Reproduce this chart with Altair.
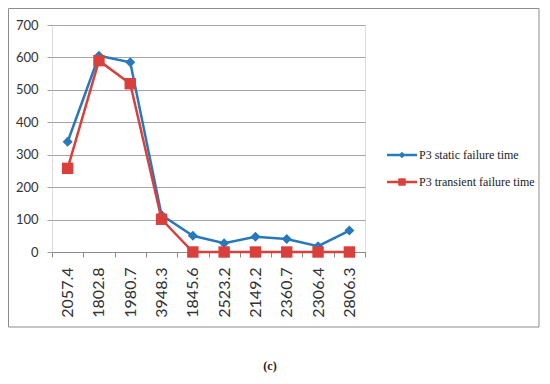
import altair as alt
import pandas as pd

categories = ["2057.4", "1802.8", "1980.7", "3948.3", "1845.6",
              "2523.2", "2149.2", "2360.7", "2306.4", "2806.3"]
static_vals = [340, 605, 585, 114, 50, 27, 47, 40, 18, 66]
transient_vals = [258, 590, 519, 101, 0, 0, 0, 0, 0, 0]
series_names = ["P3 static failure time", "P3 transient failure time"]
series_colors = ["#2878bd", "#d9403c"]
series_shapes = ["diamond", "square"]
y_ticks = [0, 100, 200, 300, 400, 500, 600, 700]

xenc = alt.X("cat:N", sort=categories,
             scale=alt.Scale(type="band", paddingInner=0, paddingOuter=0),
             axis=alt.Axis(title=None, labelAngle=270, tickBand="extent",
                           labelFont="Lato", labelFontSize=16, labelColor="#333333",
                           domainColor="#8a8a8a", tickColor="#8a8a8a", tickSize=5,
                           labelPadding=10, grid=False))
yenc = alt.Y("val:Q", scale=alt.Scale(domain=[0, 700], nice=False),
             axis=alt.Axis(title=None, values=y_ticks, domain=False,
                           labelFont="Lato", labelFontSize=13, labelColor="#333333",
                           tickColor="#a0a0a0", tickSize=5, labelPadding=9,
                           gridColor="#a6a6a6", grid=True))

frame = alt.Chart(pd.DataFrame({"k": [0]})).mark_rect(
    fill=None, stroke="#8c8c8c", strokeWidth=1
).encode(x=alt.value(-43.5), x2=alt.value(487), y=alt.value(-16.5), y2=alt.value(302))

layers = [frame]
legend_y = [130, 157]
for name, vals, col, shp, ly, msize, lsize in zip(
        series_names, [static_vals, transient_vals], series_colors, series_shapes,
        legend_y, [100, 130], [40, 55]):
    df = pd.DataFrame({"cat": categories, "val": vals, "series": name})
    base = alt.Chart(df).encode(x=xenc, y=yenc)
    layers.append(base.mark_line(color=col, strokeWidth=2.5))
    layers.append(base.mark_point(shape=shp, filled=True, color=col, size=msize, opacity=1))
    ldf = pd.DataFrame({"series": [name]})
    layers.append(alt.Chart(ldf).mark_rule(color=col, strokeWidth=2.5).encode(
        x=alt.value(335), x2=alt.value(365), y=alt.value(ly)))
    layers.append(alt.Chart(ldf).mark_point(shape=shp, filled=True, color=col,
                                            size=lsize, opacity=1).encode(
        x=alt.value(350), y=alt.value(ly)))
    layers.append(alt.Chart(ldf).mark_text(align="left", baseline="middle",
                                           font="Liberation Serif", fontSize=12,
                                           color="#222222").encode(
        x=alt.value(367), y=alt.value(ly), text="series:N"))

caption = alt.Chart(pd.DataFrame({"t": ["(c)"]})).mark_text(
    font="Liberation Serif", fontSize=12, fontWeight="bold", color="#222222",
    align="center", baseline="middle"
).encode(x=alt.value(218), y=alt.value(341), text="t:N")
layers.append(caption)

chart = alt.layer(*layers).properties(
    width=313, height=227,
    autosize=alt.AutoSizeParams(type="none"),
    padding={"left": 44, "top": 17, "right": 175, "bottom": 124},
).configure_view(stroke=None).configure(background="white")

chart.save("out.html", embed_options={"renderer": "svg", "actions": False})
